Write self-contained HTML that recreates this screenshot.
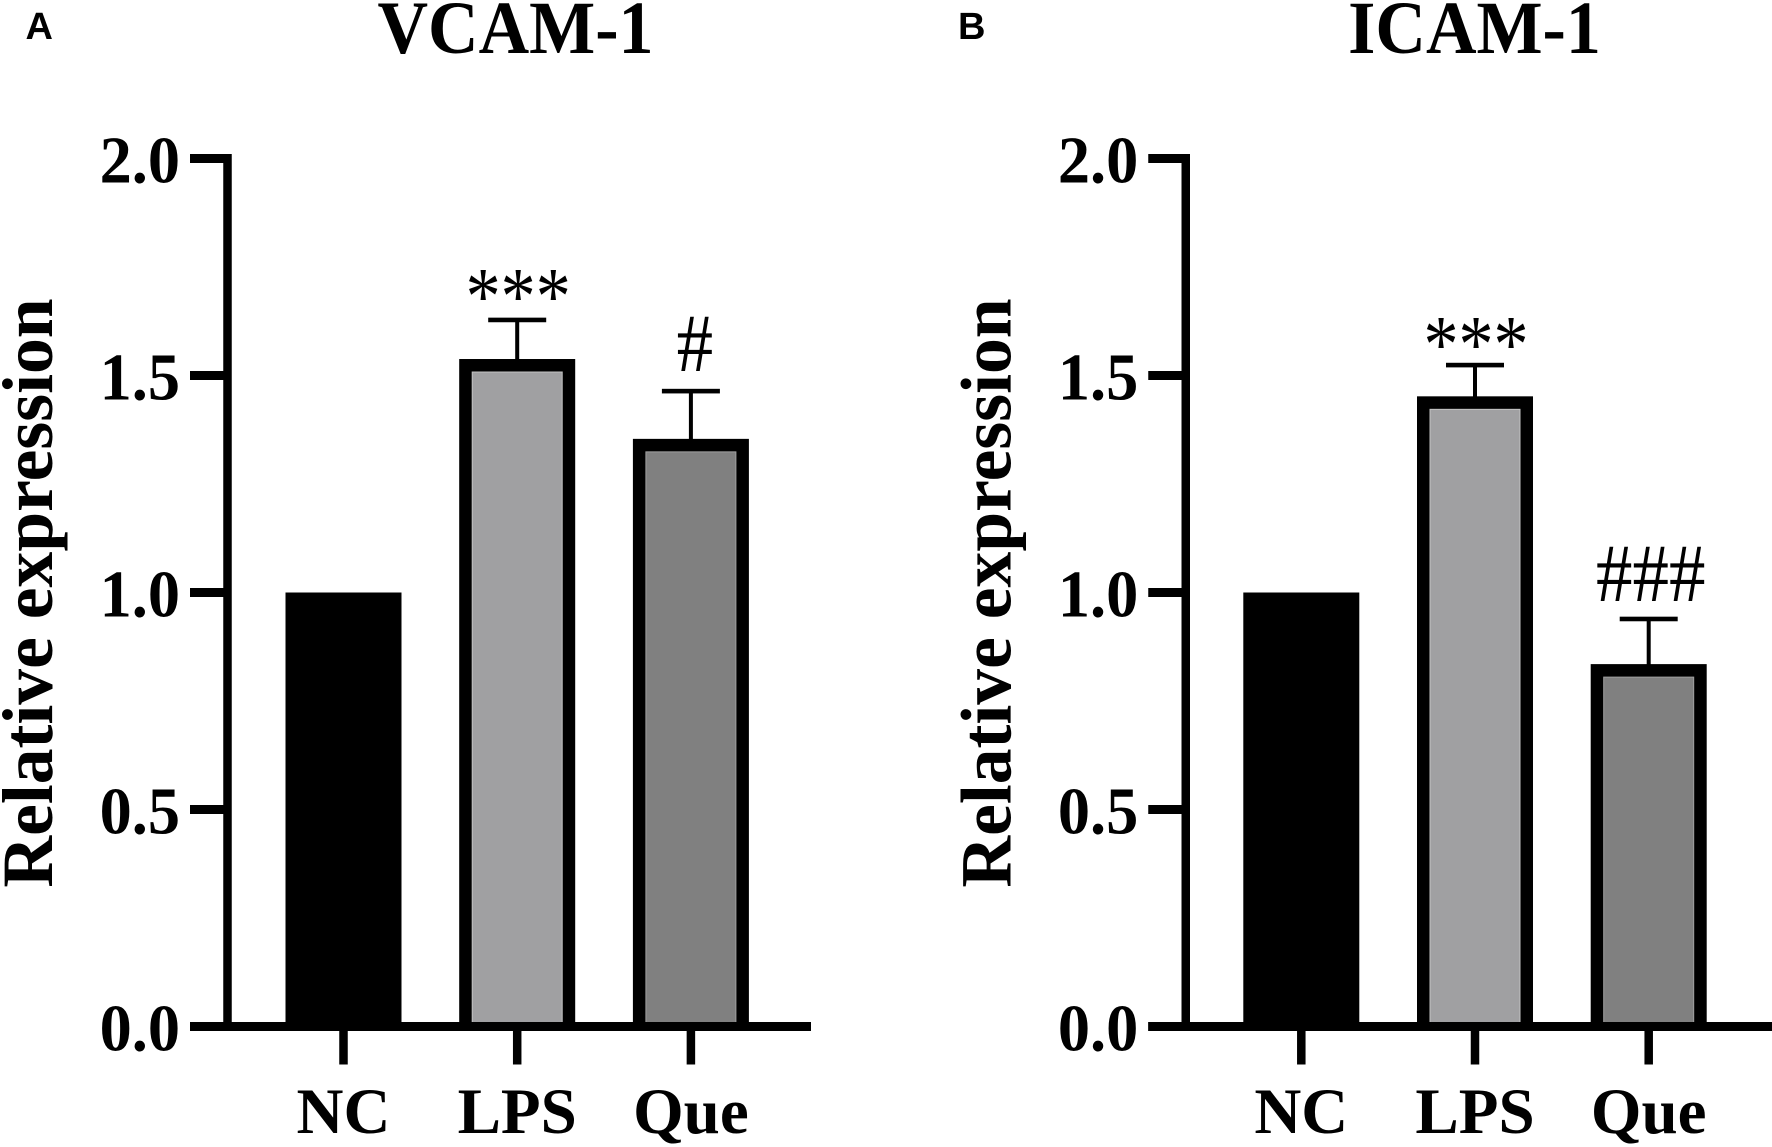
<!DOCTYPE html>
<html lang="en">
<head>
<meta charset="utf-8">
<title>VCAM-1 and ICAM-1 relative expression</title>
<style>
  html, body { margin: 0; padding: 0; background: #fff; }
  svg { display: block; width: 1772px; height: 1147px; }
  text { font-family: "Liberation Serif", serif; fill: #000; }
  .b { font-weight: bold; }
</style>
</head>
<body>
<svg id="figure" xmlns="http://www.w3.org/2000/svg" width="1772" height="1147" viewBox="0 0 1772 1147">
  <rect x="0" y="0" width="1772" height="1147" fill="#ffffff"/>
  <text x="25.5" y="39" font-size="38" font-weight="bold" style="font-family:'Liberation Sans',sans-serif">A</text>
  <text x="958" y="39" font-size="38" font-weight="bold" style="font-family:'Liberation Sans',sans-serif">B</text>
  <text class="b" font-size="70" text-anchor="middle" transform="translate(515.5,53) scale(1,1.07)">VCAM-1</text>
  <text class="b" font-size="70" text-anchor="middle" transform="translate(1474.5,53) scale(1,1.07)">ICAM-1</text>
  <text class="b" font-size="71.6" text-anchor="middle" transform="translate(52,593) rotate(-90)">Relative expression</text>
  <text class="b" font-size="71.6" text-anchor="middle" transform="translate(1010.5,593) rotate(-90)">Relative expression</text>
  <g id="panel-a"></g>
  <g id="panel-b"></g>
</svg>
<script>
const categories = ['NC', 'LPS', 'Que'];
const yTicks = [0, 0.5, 1, 1.5, 2];
const yTickLabels = ['0.0', '0.5', '1.0', '1.5', '2.0'];
const vcamValues = [1.0, 1.538, 1.354];
const vcamErrorTops = [null, 1.628, 1.464];
const vcamMarks = ['', '***', '#'];
const icamValues = [1.0, 1.452, 0.835];
const icamErrorTops = [null, 1.524, 0.939];
const icamMarks = ['', '***', '###'];
const barFills = ['#000000', '#a0a0a2', '#808080'];
const barEdges = ['#000000', '#c4c4c4', '#a0a0a0'];

const NS = 'http://www.w3.org/2000/svg';
const yZero = 1026.5;
const yPerUnit = 434;
function yScale(v) { return yZero - v * yPerUnit; }
function xScale(i, originX) { return originX + i * 173.7; }

function make(parent, tag, attrs, text) {
  const el = document.createElementNS(NS, tag);
  for (const k in attrs) el.setAttribute(k, attrs[k]);
  if (text !== undefined) el.textContent = text;
  parent.appendChild(el);
  return el;
}

function drawPanel(root, axisX, catX, axisEnd, values, errorTops, marks, suffix, starDy, hashDx, hashDy) {
  const barW = 116;
  const border = 13;

  values.forEach(function (v, i) {
    const cx = xScale(i, catX);
    const top = yScale(v);
    const err = errorTops[i];
    if (err !== null) {
      const stem = make(root, 'rect', { x: cx - 2, y: yScale(err), width: 4, height: top - yScale(err) + 1, fill: '#000' });
      
      
      const cap = make(root, 'rect', { x: cx - 29, y: yScale(err) - 2.3, width: 58, height: 4.6, fill: '#000' });
      
      
    }
    const outer = make(root, 'rect', { x: cx - barW / 2, y: top, width: barW, height: yZero - top, fill: '#000' });
    
    
    if (i > 0) {
      const inner = make(root, 'rect', {
        x: cx - barW / 2 + border, y: top + border,
        width: barW - 2 * border, height: yZero - top - border,
        fill: barFills[i], stroke: barEdges[i], 'stroke-width': 1
      });
      
      
    }
    if (marks[i]) {
      const isStar = marks[i].charAt(0) === '*';
      const tx = cx + (isStar ? 1 : hashDx);
      const ty = yScale(err) + (isStar ? starDy : hashDy);
      const sx = isStar ? 0.96 : 1;
      const sy = isStar ? 1.12 : 1.13;
      const label = make(root, 'text', {
        'font-size': 73, 'text-anchor': 'middle',
        transform: 'translate(' + tx + ',' + ty + ') scale(' + sx + ',' + sy + ')'
      }, marks[i]);
      
      
    }
  });

  const yAxis = make(root, 'rect', { x: axisX - 4.25, y: yScale(2) - 4.5, width: 8.5, height: yScale(0) - yScale(2) + 9, fill: '#000' });
  
  
  const xAxis = make(root, 'rect', { x: axisX - 37.5, y: yZero - 4.5, width: axisEnd - axisX + 37.5, height: 9, fill: '#000' });
  
  

  yTicks.forEach(function (t, i) {
    const tick = make(root, 'rect', { x: axisX - 37.5, y: yScale(t) - 4.5, width: 37.5, height: 9, fill: '#000' });
    
    
    const label = make(root, 'text', {
      'font-size': 67, 'font-weight': 'bold', 'text-anchor': 'end',
      transform: 'translate(' + (axisX - 47.5) + ',' + (yScale(t) + 24) + ') scale(0.96,1)'
    }, yTickLabels[i]);
    
    
  });

  categories.forEach(function (c, i) {
    const cx = xScale(i, catX);
    const tick = make(root, 'rect', { x: cx - 4.25, y: yZero, width: 8.5, height: 38, fill: '#000' });
    
    
    const label = make(root, 'text', { x: cx, y: 1133, 'font-size': 65, 'font-weight': 'bold', 'text-anchor': 'middle' }, c);
    
    
  });
}

drawPanel(document.getElementById('panel-a'), 227.5, 343.5, 811, vcamValues, vcamErrorTops, vcamMarks, '-vcam', 3.5, 4, -20.3);
drawPanel(document.getElementById('panel-b'), 1185.75, 1301.3, 1772, icamValues, icamErrorTops, icamMarks, '-icam', 6.5, 2, -18);
</script>
</body>
</html>
